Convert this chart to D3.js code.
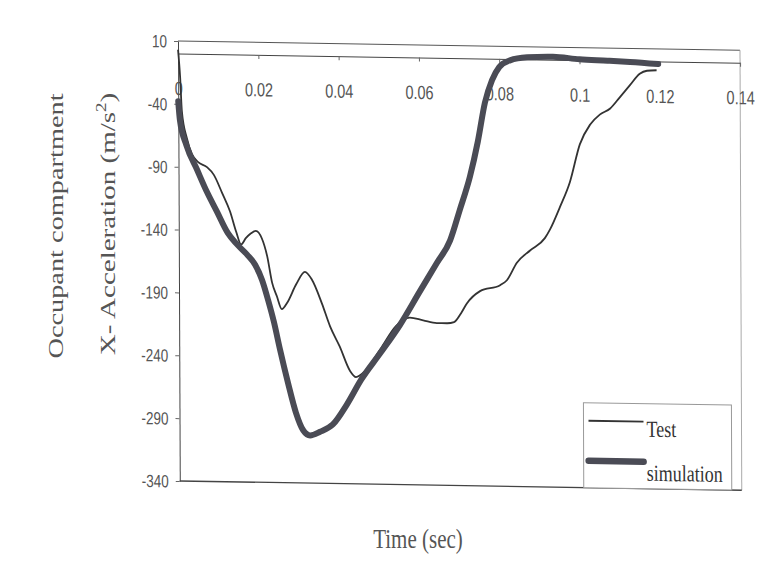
<!DOCTYPE html>
<html>
<head>
<meta charset="utf-8">
<script src="https://cdn.jsdelivr.net/npm/d3@7"></script>
<style>
    body { margin: 0; background: #fff; }
</style>
</head>
<body>
<div id="chart"></div>
<script>
// values
const timeTest = [0, 0.0005, 0.0009, 0.0021, 0.0034, 0.0049, 0.0071, 0.0088, 0.0108, 0.0128,
    0.0143, 0.0155, 0.0167, 0.018, 0.0192, 0.0207, 0.022, 0.0232, 0.0244, 0.0256,
    0.0269, 0.0292, 0.0314, 0.0331, 0.0356, 0.0376, 0.040, 0.0425, 0.044, 0.0463,
    0.050, 0.054, 0.0558, 0.0575, 0.0608, 0.0642, 0.0667, 0.0685, 0.0704, 0.0717,
    0.075, 0.080, 0.0817, 0.0842, 0.0875, 0.0912, 0.0925, 0.095, 0.0975, 0.100,
    0.1026, 0.105, 0.1076, 0.110, 0.1126, 0.115, 0.1168, 0.1192];
const accTest = [3, -19, -46, -67, -80, -86, -90, -96, -110, -125,
    -141, -151, -146, -142, -140, -146, -160, -181, -192, -202,
    -197, -182, -172, -178, -197, -215, -231, -250, -255, -250,
    -233, -214, -209, -207, -209, -211, -211, -210, -202, -195,
    -185, -180, -176, -162, -152, -142, -135, -117, -97, -67,
    -51, -43, -38, -29, -19, -10, -7.5, -7];

const timeSim = [0, 0.0004, 0.002, 0.0046, 0.0071, 0.0095, 0.0122, 0.0145, 0.017, 0.019,
    0.0207, 0.0222, 0.0236, 0.0251, 0.0271, 0.029, 0.0308, 0.0325, 0.035, 0.0382,
    0.0417, 0.0453, 0.050, 0.055, 0.060, 0.0643, 0.0676, 0.070, 0.0726, 0.0746,
    0.0764, 0.0782, 0.080, 0.0827, 0.087, 0.0934, 0.100, 0.107, 0.1126, 0.1196];
const accSim = [-38, -53, -73, -92, -110, -125, -142, -151, -159, -167,
    -179, -195, -212, -234, -261, -284, -298, -302, -299, -293,
    -277, -257, -236, -213, -186, -163, -145, -121, -94, -66,
    -35, -17, -6.5, -1, 1.6, 2.4, 0.7, 0, -0.7, -2];

const xTicks = [0, 0.02, 0.04, 0.06, 0.08, 0.1, 0.12, 0.14];
const xTickLabels = ["0", "0.02", "0.04", "0.06", "0.08", "0.1", "0.12", "0.14"];
const yTicks = [10, -40, -90, -140, -190, -240, -290, -340];
const yTickLabels = ["10", "-40", "-90", "-140", "-190", "-240", "-290", "-340"];
const seriesNames = ["Test", "simulation"];

const svgWidth = 765, svgHeight = 571;
const plot = { left: 178, top: 41, width: 562, height: 440 };
// the scan is a little sheared and stretched vertically
const shear = { x: 0.004, y: 0.0165 };
const stretch = 1.32;
const tickFont = "'Liberation Sans', Arial, sans-serif";
const titleFont = "'Liberation Serif', 'Times New Roman', serif";

const svg = d3.select("#chart")
    .append("svg")
    .attr("width", svgWidth)
    .attr("height", svgHeight)
    .style("background-color", "white");

const xScale = d3.scaleLinear().domain([0, 0.14]).range([0, plot.width]);
const yScale = d3.scaleLinear().domain([10, -340]).range([0, plot.height]);

const g = svg.append("g")
    .attr("transform", `translate(${plot.left},${plot.top}) matrix(1,${shear.y},${shear.x},1,0,0)`);

//plot frame
g.append("line")
    .attr("x1", 0).attr("x2", plot.width)
    .attr("y1", 0).attr("y2", 0)
    .attr("stroke", "#555").attr("stroke-width", 1);
g.append("line")
    .attr("x1", plot.width).attr("x2", plot.width)
    .attr("y1", 0).attr("y2", plot.height)
    .attr("stroke", "#aaa").attr("stroke-width", 1);
g.append("line")
    .attr("x1", 0).attr("x2", plot.width)
    .attr("y1", plot.height).attr("y2", plot.height)
    .attr("stroke", "#444").attr("stroke-width", 1.3);

//y axis
const yAxis = d3.axisLeft(yScale)
    .tickValues(yTicks)
    .tickFormat((d, i) => yTickLabels[i])
    .tickSize(4)
    .tickSizeOuter(0)
    .tickPadding(7);

const yAxisG = g.append("g").call(yAxis)
    .attr("font-family", tickFont)
    .attr("font-size", 13.5);
yAxisG.select(".domain").attr("stroke", "#444");
yAxisG.selectAll(".tick line").attr("stroke", "#666");
yAxisG.selectAll("text")
    .attr("fill", "#555")
    .attr("dy", "0.34em")
    .attr("transform", `scale(1,${stretch})`);

//x axis at zero
const xAxis = d3.axisBottom(xScale)
    .tickValues(xTicks)
    .tickFormat((d, i) => xTickLabels[i])
    .tickSize(4)
    .tickSizeOuter(0);

const xAxisG = g.append("g")
    .attr("transform", `translate(0,${yScale(0)})`)
    .call(xAxis)
    .attr("font-family", tickFont)
    .attr("font-size", 14.5);
xAxisG.select(".domain").attr("stroke", "#444");
xAxisG.selectAll(".tick line").attr("stroke", "#666");
xAxisG.selectAll("text")
    .attr("fill", "#555")
    .attr("y", null)
    .attr("dy", null)
    .attr("transform", `translate(0,41.5) scale(1,${stretch})`);

//lines
const lineGenerator = d3.line()
    .x(d => xScale(d[0]))
    .y(d => yScale(d[1]))
    .curve(d3.curveMonotoneX);

g.append("path")
    .datum(d3.zip(timeTest, accTest))
    .attr("d", lineGenerator)
    .attr("fill", "none")
    .attr("stroke", "#333")
    .attr("stroke-width", 1.8)
    .attr("stroke-linejoin", "round");

g.append("path")
    .datum(d3.zip(timeSim, accSim))
    .attr("d", lineGenerator)
    .attr("fill", "none")
    .attr("stroke", "#4a4b55")
    .attr("stroke-width", 6)
    .attr("stroke-linejoin", "round")
    .attr("stroke-linecap", "round");

//legend
const legend = g.append("g").attr("transform", "translate(404,355)");
legend.append("rect")
    .attr("x", 0).attr("y", 0)
    .attr("width", 148).attr("height", plot.height - 355)
    .attr("fill", "white")
    .attr("stroke", "#999")
    .attr("stroke-width", 1);

const legendRows = [
    { name: seriesNames[0], width: 1.8, color: "#333", y: 18, textY: 33 },
    { name: seriesNames[1], width: 6.5, color: "#4a4b55", y: 58, textY: 77 }
];

legendRows.forEach(row => {
    legend.append("line")
        .attr("x1", 5).attr("x2", 60)
        .attr("y1", row.y).attr("y2", row.y)
        .attr("stroke", row.color)
        .attr("stroke-width", row.width)
        .attr("stroke-linecap", row.width > 3 ? "round" : "butt");
    legend.append("text")
        .attr("transform", `translate(63,${row.textY}) scale(1,1.28)`)
        .attr("font-family", titleFont)
        .attr("font-size", 18)
        .attr("fill", "#333")
        .text(row.name);
});

//axis titles
svg.append("text")
    .attr("transform", `translate(418,548) scale(1,1.3)`)
    .attr("text-anchor", "middle")
    .attr("font-family", titleFont)
    .attr("font-size", 21)
    .attr("fill", "#555")
    .text("Time (sec)");

svg.append("text")
    .attr("transform", `translate(63,226) rotate(-90) scale(1.35,1)`)
    .attr("text-anchor", "middle")
    .attr("font-family", titleFont)
    .attr("font-size", 21)
    .attr("fill", "#555")
    .text("Occupant compartment");

const yTitle2 = svg.append("text")
    .attr("transform", `translate(115,224) rotate(-90) scale(1.35,1)`)
    .attr("text-anchor", "middle")
    .attr("font-family", titleFont)
    .attr("font-size", 21.5)
    .attr("fill", "#555");
yTitle2.append("tspan").text("X- Acceleration (m/s");
yTitle2.append("tspan").attr("font-size", 14).attr("dy", -9).text("2");
yTitle2.append("tspan").attr("dy", 9).text(")");
</script>
</body>
</html>
